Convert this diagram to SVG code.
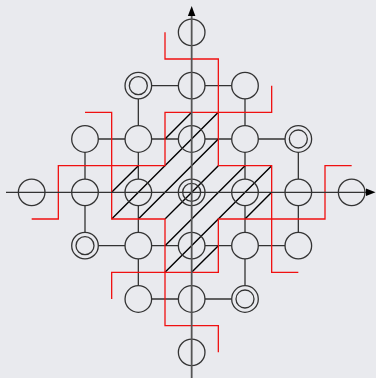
<svg xmlns="http://www.w3.org/2000/svg" width="376" height="378" viewBox="0 0 376 378">
<style>
.n{fill:none;stroke:#333;stroke-width:1.3}
.e{stroke:#333;stroke-width:1.3;fill:none}
.h{stroke:#000;stroke-width:1.4;fill:none}
.r{stroke:#f01010;stroke-width:1.3;fill:none}
</style>
<rect width="376" height="378" fill="#e9eaee"/>
<g id="connectors">
<path class="e" d="M151.63 85.67H178.37M205 85.67H231.67M98.33 139H125M151.63 139H178.37M205 139H231.67M258.33 139H285M98.33 245.67H125M151.63 245.67H178.37M205 245.67H231.67M258.33 245.67H285M151.63 299H178.37M205 299H231.67"/>
<path class="e" d="M85 152.33V179M85 205.67V232.33M138.33 99V125.67M138.33 152.33V179M138.33 205.67V232.33M138.33 259V285.67M245 99V125.67M245 152.33V179M245 205.67V232.33M245 259V285.67M298.33 152.33V179M298.33 205.67V232.33"/>
</g>
<g id="hatch">
<path class="h" d="M111.67 192.33L138.33 165.67M165 139L191.67 112.33M111.67 219L218.33 112.33M138.33 219L218.33 139M165 219L218.33 165.67M165 245.67L245 165.67M165 272.33L271.67 165.67M191.67 272.33L218.33 245.67M245 219L271.67 192.33"/>
</g>
<g id="n-0-3"><circle class="n" cx="191.67" cy="32.33" r="13.3"/></g>
<g id="n-m1-2"><circle class="n" cx="138.33" cy="85.67" r="13.3"/><circle class="n" cx="138.33" cy="85.67" r="9"/></g>
<g id="n-0-2"><circle class="n" cx="191.67" cy="85.67" r="13.3"/></g>
<g id="n-1-2"><circle class="n" cx="245" cy="85.67" r="13.3"/></g>
<g id="n-m2-1"><circle class="n" cx="85" cy="139" r="13.3"/></g>
<g id="n-m1-1"><circle class="n" cx="138.33" cy="139" r="13.3"/></g>
<g id="n-0-1"><circle class="n" cx="191.67" cy="139" r="13.3"/></g>
<g id="n-1-1"><circle class="n" cx="245" cy="139" r="13.3"/></g>
<g id="n-2-1"><circle class="n" cx="298.33" cy="139" r="13.3"/><circle class="n" cx="298.33" cy="139" r="9"/></g>
<g id="n-m3-0"><circle class="n" cx="31.67" cy="192.33" r="13.3"/></g>
<g id="n-m2-0"><circle class="n" cx="85" cy="192.33" r="13.3"/></g>
<g id="n-m1-0"><circle class="n" cx="138.33" cy="192.33" r="13.3"/></g>
<g id="n-0-0"><circle class="n" cx="191.67" cy="192.33" r="13.3"/><circle class="n" cx="191.67" cy="192.33" r="9"/></g>
<g id="n-1-0"><circle class="n" cx="245" cy="192.33" r="13.3"/></g>
<g id="n-2-0"><circle class="n" cx="298.33" cy="192.33" r="13.3"/></g>
<g id="n-3-0"><circle class="n" cx="351.67" cy="192.33" r="13.3"/></g>
<g id="n-m2-m1"><circle class="n" cx="85" cy="245.67" r="13.3"/><circle class="n" cx="85" cy="245.67" r="9"/></g>
<g id="n-m1-m1"><circle class="n" cx="138.33" cy="245.67" r="13.3"/></g>
<g id="n-0-m1"><circle class="n" cx="191.67" cy="245.67" r="13.3"/></g>
<g id="n-1-m1"><circle class="n" cx="245" cy="245.67" r="13.3"/></g>
<g id="n-2-m1"><circle class="n" cx="298.33" cy="245.67" r="13.3"/></g>
<g id="n-m1-m2"><circle class="n" cx="138.33" cy="299" r="13.3"/></g>
<g id="n-0-m2"><circle class="n" cx="191.67" cy="299" r="13.3"/></g>
<g id="n-1-m2"><circle class="n" cx="245" cy="299" r="13.3"/><circle class="n" cx="245" cy="299" r="9"/></g>
<g id="n-0-m3"><circle class="n" cx="191.67" cy="352.33" r="13.3"/></g>
<g id="red">
<polyline class="r" points="165,32.33 165,59 218.33,59 218.33,165.67 271.67,165.67 271.67,272.33 298.33,272.33"/>
<polyline class="r" points="31.67,219 58.33,219 58.33,165.67 165,165.67 165,112.33 271.67,112.33 271.67,85.67"/>
<polyline class="r" points="85,112.33 111.67,112.33 111.67,219 165,219 165,325.67 218.33,325.67 218.33,352.33"/>
<polyline class="r" points="351.67,165.67 325,165.67 325,219 218.33,219 218.33,272.33 111.67,272.33 111.67,299"/>
</g>
<g id="axes">
<line x1="6" y1="192.33" x2="367" y2="192.33" stroke="#333" stroke-width="1.3"/>
<polygon points="375.5,192.33 366,188.6 366,196.1" fill="#000"/>
<line x1="191.67" y1="378" x2="191.67" y2="15" stroke="#555" stroke-width="1.8"/>
<polygon points="191.67,6 187.9,16 195.4,16" fill="#000"/>
</g>
</svg>
